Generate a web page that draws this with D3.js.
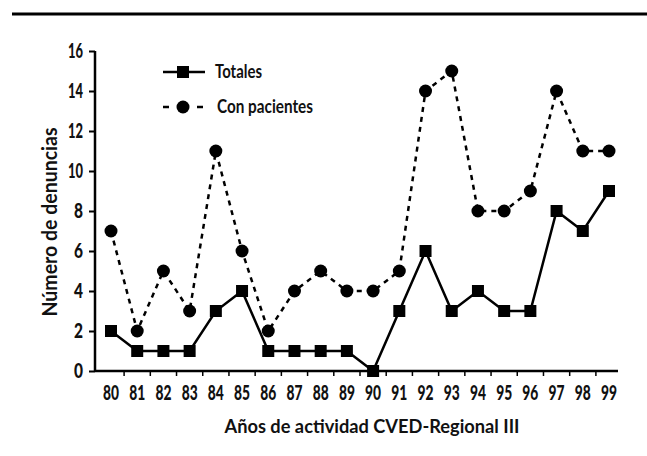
<!DOCTYPE html>
<html>
<head>
<meta charset="utf-8">
<script src="https://cdn.jsdelivr.net/npm/d3@7"></script>
<style>
  body { margin: 0; background: white; }
  text { font-family: Lato, "Open Sans", sans-serif; fill: #111; }
</style>
</head>
<body>
<div id="chart"></div>
<script>
// Data
const years = ["80","81","82","83","84","85","86","87","88","89","90","91","92","93","94","95","96","97","98","99"];
const totales = [2,1,1,1,3,4,1,1,1,1,0,3,6,3,4,3,3,8,7,9];
const conPacientes = [7,2,5,3,11,6,2,4,5,4,4,5,14,15,8,8,9,14,11,11];
const yTicks = [0,2,4,6,8,10,12,14,16];

const width = 647, height = 456;

const svg = d3.select('#chart')
  .append('svg')
  .attr('width', width)
  .attr('height', height)
  .style('background', 'white');

// top rule
svg.append('line')
  .attr('x1', 12).attr('x2', width)
  .attr('y1', 14).attr('y2', 14)
  .attr('stroke', '#000').attr('stroke-width', 3);

// Scales
const xScale = d3.scalePoint()
  .domain(years)
  .range([111, 609]);

const yScale = d3.scaleLinear()
  .domain([0, 16])
  .range([371, 51]);

const axisX = 95;

// y axis
const yaxis = svg.append('g')
  .attr('transform', `translate(${axisX},0)`)
  .call(d3.axisLeft(yScale).tickValues(yTicks).tickSize(6).tickSizeOuter(0).tickPadding(6));
yaxis.select('.domain').attr('stroke-width', 2.5).attr('d', `M0,${yScale(16)}V${yScale(0) + 1}`);
yaxis.selectAll('.tick line').attr('stroke-width', 2);
yaxis.selectAll('.tick text')
  .style('font-family', 'Lato, sans-serif')
  .style('font-size', '21px')
  .style('font-weight', '900')
  .attr('fill', '#111')
  .attr('textLength', d => d >= 10 ? 15 : 9)
  .attr('lengthAdjust', 'spacingAndGlyphs');

// x axis
svg.append('line')
  .attr('x1', axisX).attr('x2', 618)
  .attr('y1', yScale(0)).attr('y2', yScale(0))
  .attr('stroke', '#000').attr('stroke-width', 2.5);

// small ticks between years
const step = xScale.step();
svg.append('g')
  .selectAll('line')
  .data(years.slice(1))
  .join('line')
  .attr('x1', d => xScale(d) - step / 2)
  .attr('x2', d => xScale(d) - step / 2)
  .attr('y1', yScale(0))
  .attr('y2', yScale(0) + 5)
  .attr('stroke', '#000')
  .attr('stroke-width', 1.5);

svg.append('g')
  .selectAll('text')
  .data(years)
  .join('text')
  .attr('x', d => xScale(d))
  .attr('y', 400)
  .attr('text-anchor', 'middle')
  .style('font-size', '20px')
  .style('font-weight', '900')
  .attr('textLength', 16)
  .attr('lengthAdjust', 'spacingAndGlyphs')
  .text(d => d);

// axis titles
svg.append('text')
  .text('Años de actividad CVED-Regional III')
  .attr('x', 372)
  .attr('y', 433)
  .attr('text-anchor', 'middle')
  .attr('textLength', 295)
  .attr('lengthAdjust', 'spacingAndGlyphs')
  .style('font-size', '19px')
  .style('font-weight', 'bold');

svg.append('text')
  .text('Número de denuncias')
  .attr('transform', 'rotate(-90)')
  .attr('x', -222)
  .attr('y', 57)
  .attr('text-anchor', 'middle')
  .attr('textLength', 189)
  .attr('lengthAdjust', 'spacingAndGlyphs')
  .style('font-size', '20px')
  .style('font-weight', 'bold');

// lines
const line = d3.line()
  .x((d, i) => xScale(years[i]))
  .y(d => yScale(d));

svg.append('path')
  .datum(conPacientes)
  .attr('d', line)
  .attr('fill', 'none')
  .attr('stroke', '#000')
  .attr('stroke-width', 2.5)
  .attr('stroke-dasharray', '5,5');

svg.append('path')
  .datum(totales)
  .attr('d', line)
  .attr('fill', 'none')
  .attr('stroke', '#000')
  .attr('stroke-width', 2.5);

// markers
svg.append('g')
  .selectAll('circle')
  .data(conPacientes)
  .join('circle')
  .attr('cx', (d, i) => xScale(years[i]))
  .attr('cy', d => yScale(d))
  .attr('r', 6.5)
  .attr('fill', '#000');

const sq = 12;
svg.append('g')
  .selectAll('rect')
  .data(totales)
  .join('rect')
  .attr('x', (d, i) => xScale(years[i]) - sq / 2)
  .attr('y', d => yScale(d) - sq / 2)
  .attr('width', sq)
  .attr('height', sq)
  .attr('fill', '#000');

// legend
const legend = svg.append('g');
legend.append('line')
  .attr('x1', 163).attr('x2', 205).attr('y1', 72).attr('y2', 72)
  .attr('stroke', '#000').attr('stroke-width', 2.5);
legend.append('rect')
  .attr('x', 183 - sq / 2).attr('y', 72 - sq / 2)
  .attr('width', sq).attr('height', sq).attr('fill', '#000');
legend.append('text')
  .text('Totales')
  .attr('x', 215).attr('y', 78)
  .attr('textLength', 47).attr('lengthAdjust', 'spacingAndGlyphs')
  .style('font-size', '18px').style('font-weight', 'bold');

legend.append('line')
  .attr('x1', 163).attr('x2', 203).attr('y1', 107).attr('y2', 107)
  .attr('stroke', '#000').attr('stroke-width', 2.5)
  .attr('stroke-dasharray', '6,11');
legend.append('circle')
  .attr('cx', 183).attr('cy', 107).attr('r', 6.5).attr('fill', '#000');
legend.append('text')
  .text('Con pacientes')
  .attr('x', 217).attr('y', 113)
  .attr('textLength', 96).attr('lengthAdjust', 'spacingAndGlyphs')
  .style('font-size', '18px').style('font-weight', 'bold');
</script>
</body>
</html>
